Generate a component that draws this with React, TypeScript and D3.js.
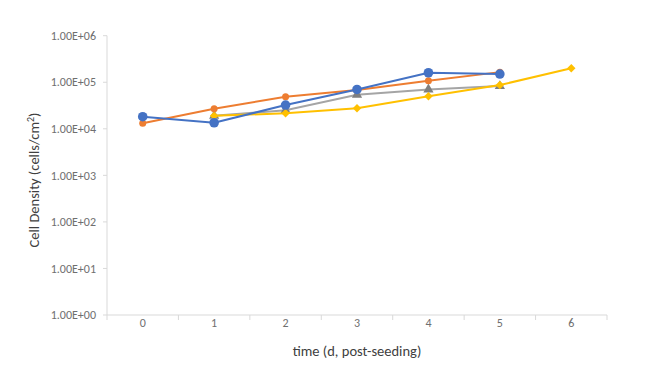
import React from "react";
import * as d3 from "d3";

const days = ["0", "1", "2", "3", "4", "5", "6"];
const yTicks = [1, 10, 100, 1000, 10000, 100000, 1000000];
const yTickLabels = ["1.00E+00", "1.00E+01", "1.00E+02", "1.00E+03", "1.00E+04", "1.00E+05", "1.00E+06"];

const grayDays = ["1", "2", "3", "4", "5"];
const grayValues = [19000, 25000, 54000, 70000, 83000];
const yellowDays = ["1", "2", "3", "4", "5", "6"];
const yellowValues = [19000, 21500, 27500, 50000, 87000, 200000];
const orangeDays = ["0", "1", "2", "3", "4", "5"];
const orangeValues = [13200, 27000, 49000, 68000, 108000, 165000];
const blueDays = ["0", "1", "2", "3", "4", "5"];
const blueValues = [18200, 13500, 32400, 70000, 160000, 150000];

const W = 650, H = 381;
const left = 107, right = 607, top = 35.7, bottom = 315;

export default function App() {
  const x = d3.scaleBand<string>().domain(days).range([left, right]);
  const y = d3.scaleLog().domain([1, 1000000]).range([bottom, top]);
  const cx = (d: string) => (x(d) as number) + x.bandwidth() / 2;
  const line = d3.line<[string, number]>().x(d => cx(d[0])).y(d => y(d[1]));
  const zip = (a: string[], b: number[]) => a.map((d, i) => [d, b[i]] as [string, number]);

  const gray = zip(grayDays, grayValues);
  const yellow = zip(yellowDays, yellowValues);
  const orange = zip(orangeDays, orangeValues);
  const blue = zip(blueDays, blueValues);

  const tri = d3.symbol().type(d3.symbolTriangle).size(45)();
  const dia = d3.symbol().type(d3.symbolSquare).size(36)();

  const font = "Carlito, Calibri, 'Open Sans', 'Liberation Sans', sans-serif";
  const bounds = [...days.map(d => x(d) as number), right];

  return (
    <svg width={W} height={H} style={{ position: "absolute", left: 0, top: 0, background: "#fff" }}>
      {/* axes */}
      <line x1={left} x2={left} y1={top} y2={bottom} stroke="#d9d9d9" strokeWidth={1} />
      <line x1={left} x2={right} y1={bottom} y2={bottom} stroke="#d9d9d9" strokeWidth={1} />
      {yTicks.map(t => (
        <line key={"yt" + t} x1={left - 4} x2={left} y1={y(t)} y2={y(t)} stroke="#d9d9d9" />
      ))}
      {bounds.map((b, i) => (
        <line key={"xt" + i} x1={b} x2={b} y1={bottom} y2={bottom + 5} stroke="#d9d9d9" />
      ))}
      {yTicks.map((t, i) => (
        <text key={"yl" + t} x={96} y={y(t)} dy="0.35em" textAnchor="end" fontSize={12} fill="#6f6f6f" fontFamily={font}>
          {yTickLabels[i]}
        </text>
      ))}
      {days.map(d => (
        <text key={"xl" + d} x={cx(d)} y={326.5} textAnchor="middle" fontSize={12} fill="#6f6f6f" fontFamily={font}>
          {d}
        </text>
      ))}
      <text x={357} y={356} textAnchor="middle" fontSize={14.5} fill="#404040" fontFamily={font}>
        time (d, post-seeding)
      </text>
      <text transform="translate(39,180) rotate(-90)" textAnchor="middle" fontSize={14.5} fill="#404040" fontFamily={font}>
        Cell Density (cells/cm<tspan dy="-5" fontSize={10}>2</tspan><tspan dy="5">)</tspan>
      </text>

      {/* series */}
      <path d={line(gray) || ""} fill="none" stroke="#A5A5A5" strokeWidth={2} />
      {gray.map((d, i) => (
        <path key={"g" + i} d={tri || ""} transform={`translate(${cx(d[0])},${y(d[1])})`} fill="#7f7f7f" />
      ))}
      <path d={line(yellow) || ""} fill="none" stroke="#FFC000" strokeWidth={2} />
      {yellow.map((d, i) => (
        <path key={"y" + i} d={dia || ""} transform={`translate(${cx(d[0])},${y(d[1])}) rotate(45)`} fill="#FFC000" />
      ))}
      <path d={line(orange) || ""} fill="none" stroke="#ED7D31" strokeWidth={2} />
      {orange.map((d, i) => (
        <circle key={"o" + i} cx={cx(d[0])} cy={y(d[1])} r={3.5} fill="#ED7D31" />
      ))}
      <path d={line(blue) || ""} fill="none" stroke="#4472C4" strokeWidth={2} />
      {blue.map((d, i) => (
        <circle key={"b" + i} cx={cx(d[0])} cy={y(d[1])} r={4.8} fill="#4472C4" />
      ))}
    </svg>
  );
}
